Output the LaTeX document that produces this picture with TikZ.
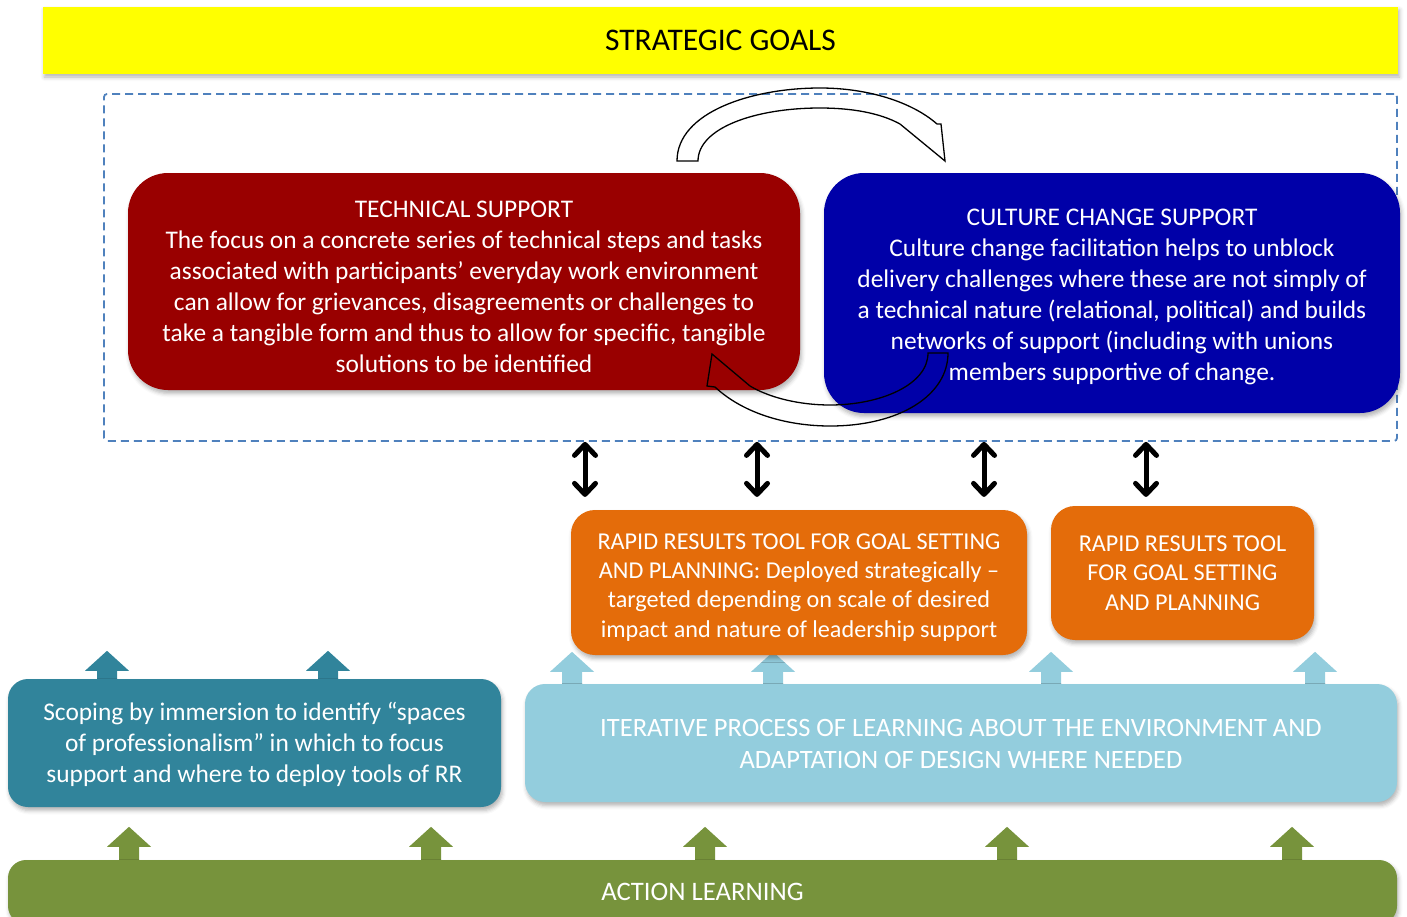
\documentclass[tikz,border=0pt]{standalone}
\usepackage{fontspec}
\setmainfont{Carlito}
\usetikzlibrary{shadows.blur, positioning, arrows.meta, backgrounds}
\definecolor{goalyellow}{HTML}{FFFF00}
\definecolor{techred}{HTML}{990000}
\definecolor{culturblue}{HTML}{0000A8}
\definecolor{rrorange}{HTML}{E46C0A}
\definecolor{iterblue}{HTML}{93CDDD}
\definecolor{scopeteal}{HTML}{31849B}
\definecolor{actiongreen}{HTML}{77933C}
\definecolor{zoneblue}{HTML}{4F81BD}
\tikzset{
    soft shadow/.style = {blur shadow={shadow xshift=1.5pt, shadow yshift=-3.5pt, shadow blur radius=4pt, shadow opacity=30}},
    box/.style = {soft shadow, inner sep=0pt, align=center, text=white, text depth=0pt, font=\fontsize{25.4}{31}\selectfont},
    tool box/.style = {box, fill=rrorange, rounded corners=24pt, font=\fontsize{24.2}{29.3}\selectfont},
    zone/.style = {draw=zoneblue, line width=1.8pt, dash pattern=on 8pt off 5pt, rounded corners=3pt},
    swoop/.style = {draw, line width=1.3pt, line join=miter},
    both ways/.style = {line width=5pt, {Straight Barb[length=11pt,width=21pt,round]}-{Straight Barb[length=11pt,width=21pt,round]}},
}
% block arrow pointing up: colour, base point, total height
\newcommand{\blockup}[3]{\fill[#1] (#2) ++(-10,0) -- ++(0,{20-#3}) -- ++(-12,0) -- ++(22,-20) -- ++(22,20) -- ++(-12,0) -- ++(0,{#3-20}) -- cycle;}

\begin{document}
\begin{tikzpicture}[x=1pt, y=-1pt]
    \useasboundingbox (0,0) rectangle (1407,916);

    \node[box, fill=goalyellow, text=black, rounded corners=0pt, minimum width=1355pt, minimum height=67pt, font=\fontsize{31.5}{31}\selectfont] (goals) at (720.5,40) {STRATEGIC GOALS};

    \node[zone, minimum width=1293pt, minimum height=347pt] (zone) at (750.5,267.5) {};

    \draw[swoop] (677,161) .. controls (677,112) and (752,88) .. (820,88) .. controls (868,88) and (912,102) .. (937,124) -- (941,124) -- (945,161) -- (900,124) .. controls (880,113) and (852,108) .. (820,108) .. controls (755,108) and (698,128) .. (698,161) -- cycle;

    \node[box, fill=techred, rounded corners=40pt, minimum width=672pt, minimum height=217pt, text height=181pt] (tech) at (464,281.5) {TECHNICAL SUPPORT\\The focus on a concrete series of technical steps and tasks\\associated with participants’ everyday work environment\\can allow for grievances, disagreements or challenges to\\take a tangible form and thus to allow for specific, tangible\\solutions to be identified};
    \node[box, fill=culturblue, rounded corners=40pt, minimum width=576pt, minimum height=240pt, text height=175pt] (culture) at (1112,293) {CULTURE CHANGE SUPPORT\\Culture change facilitation helps to unblock\\delivery challenges where these are not simply of\\a technical nature (relational, political) and builds\\networks of support (including with unions\\members supportive of change.};

    \draw[swoop] (712,354) -- (707,386) -- (715,387) .. controls (745,415) and (790,426) .. (830,426) .. controls (900,426) and (948,395) .. (948,353) -- (928,353) .. controls (928,385) and (880,405) .. (830,405) .. controls (800,405) and (770,398) .. (750,386) -- cycle;

    \foreach \x in {585,757,984,1146}
        \draw[both ways] (zone.south -| \x,0) -- ++(0,55);

    \node[tool box, minimum width=456pt, minimum height=145pt, text height=109.5pt] (rrt) at (799,582.5) {RAPID RESULTS TOOL FOR GOAL SETTING\\AND PLANNING: Deployed strategically --\\targeted depending on scale of desired\\impact and nature of leadership support};
    \node[tool box, minimum width=263pt, minimum height=134pt] (rrtb) at (1182.5,573) {RAPID RESULTS TOOL\\FOR GOAL SETTING\\AND PLANNING};

    \node[box, fill=iterblue, rounded corners=20pt, minimum width=872pt, minimum height=118pt, font=\fontsize{26.5}{32}\selectfont, text height=51pt] (iter) at (961,743) {ITERATIVE PROCESS OF LEARNING ABOUT THE ENVIRONMENT AND\\ADAPTATION OF DESIGN WHERE NEEDED};
    \node[box, fill=scopeteal, rounded corners=20pt, minimum width=493pt, minimum height=128pt, text depth=2pt] (scope) at (254.5,743) {Scoping by immersion to identify “spaces\\of professionalism” in which to focus\\support and where to deploy tools of RR};
    \node[box, fill=actiongreen, rounded corners=18pt, minimum width=1389pt, minimum height=64pt, font=\fontsize{26.7}{31}\selectfont] (action) at (702.5,892) {ACTION LEARNING};

    \begin{scope}[on background layer]
        \foreach \x in {572,773,1051,1315}
            {\blockup{iterblue}{iter.north -| \x,0}{32}}
        \foreach \x in {107,328}
            {\blockup{scopeteal}{scope.north -| \x,0}{28}}
        \foreach \x in {129,431,705,1007,1292}
            {\blockup{actiongreen}{action.north -| \x,0}{33}}
    \end{scope}
\end{tikzpicture}
\end{document}
